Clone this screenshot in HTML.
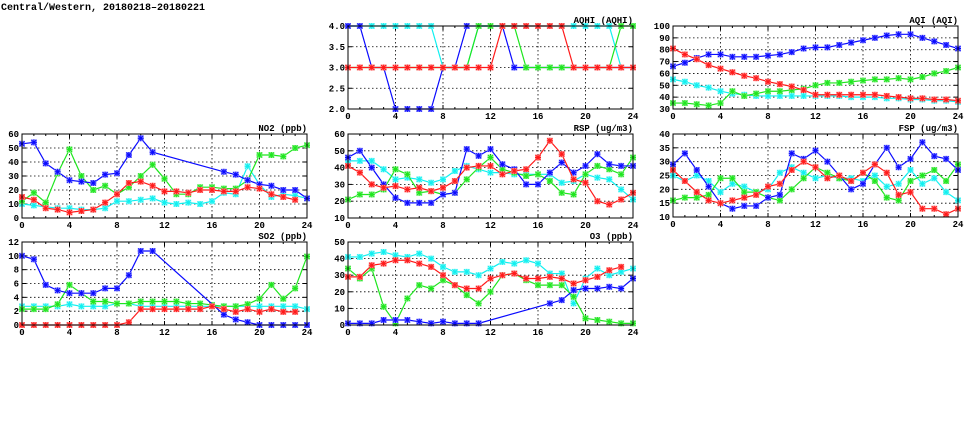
<!DOCTYPE html>
<html><head><meta charset="utf-8"><style>
html,body{margin:0;padding:0;background:#fff;}
svg{display:block;}
text{font-family:"Liberation Mono",monospace;font-weight:bold;fill:#000;}
</style></head><body>
<svg id="s" width="975" height="447" xmlns="http://www.w3.org/2000/svg">
<text x="1" y="10" font-size="10">Central/Western, 20180218–20180221</text>
</svg>
<script>
const S=document.getElementById('s');const NS='http://www.w3.org/2000/svg';
function el(t,a,txt){const e=document.createElementNS(NS,t);for(const k in a)e.setAttribute(k,a[k]);if(txt!=null)e.textContent=txt;S.appendChild(e);return e;}
const C={b:'#0a0aff',g:'#1ee61e',r:'#ff1a1a',c:'#10f0f0'};
const L={b:'#9090ff',g:'#90f090',r:'#ff9090',c:'#90f8f8'};
function panel(x0,y0,y1,ymin,ymax,step,title,dec,series){
 const w=285,h=y1-y0;
 const X=i=>x0+i*w/24, Y=v=>y1-(v-ymin)/(ymax-ymin)*h;
 for(let v=ymin;v<=ymax+1e-9;v+=step){const y=Y(v);
  if(v>ymin&&v<ymax)el('line',{x1:x0,x2:x0+w,y1:y,y2:y,stroke:'#000','stroke-width':0.8,'stroke-dasharray':'1.5,2.5'});
  el('line',{x1:x0,x2:x0+4,y1:y,y2:y,stroke:'#000'});el('line',{x1:x0+w-4,x2:x0+w,y1:y,y2:y,stroke:'#000'});
  el('text',{x:x0-3,y:y+3,'font-size':9,'text-anchor':'end'},dec?v.toFixed(1):String(v));}
 for(let i=0;i<=24;i++){const x=X(i);
  if(i%4==0){ if(i>0&&i<24)el('line',{x1:x,x2:x,y1:y0,y2:y1,stroke:'#000','stroke-width':0.8,'stroke-dasharray':'1.5,2.5'});
   el('line',{x1:x,x2:x,y1:y1,y2:y1-4,stroke:'#000'});el('line',{x1:x,x2:x,y1:y0,y2:y0+4,stroke:'#000'});
   el('text',{x:x,y:y1+10,'font-size':9,'text-anchor':'middle'},String(i));}
  else{el('line',{x1:x,x2:x,y1:y1,y2:y1-2,stroke:'#000'});el('line',{x1:x,x2:x,y1:y0,y2:y0+2,stroke:'#000'});}}
 for(const [k,d] of series){const pts=[];d.forEach((v,i)=>{if(v!=null)pts.push([X(i),Y(v)]);});
  el('polyline',{points:pts.map(p=>p.join(',')).join(' '),fill:'none',stroke:C[k],'stroke-width':1.2});
  for(const [px,py] of pts){el('rect',{x:px-3,y:py-3,width:6,height:6,fill:L[k]});
   el('path',{d:`M${px-3} ${py}H${px+3}M${px} ${py-3}V${py+3}M${px-2.5} ${py-2.5}L${px+2.5} ${py+2.5}M${px-2.5} ${py+2.5}L${px+2.5} ${py-2.5}`,stroke:C[k],'stroke-width':1});}}
 el('rect',{x:x0,y:y0,width:w,height:h,fill:'none',stroke:'#000','stroke-width':1});
 el('text',{x:x0+w,y:y0-3,'font-size':9,'text-anchor':'end'},title);
}
const n=null;
panel(22,134,218,0,60,10,'NO2 (ppb)',0,[
['c',[10,9,8,7,7,6,6,7,12,12,13,14,11,10,11,10,12,18,17,37,24,15,17,16,14]],
['g',[12,18,11,32,49,30,20,23,17,22,30,38,28,17,17,22,22,21,21,27,45,45,44,50,52]],
['b',[53,54,39,33,27,26,25,31,32,45,57,47,n,n,n,n,n,33,31,27,24,23,20,20,14]],
['r',[15,13,7,6,4,5,6,11,17,25,26,23,19,19,18,20,20,19,19,22,21,17,15,13,n]]]);
panel(22,242,325,0,12,2,'SO2 (ppb)',0,[
['c',[2.7,2.7,2.7,2.7,3,2.7,2.7,2.7,3.1,3.1,2.7,2.7,2.7,2.7,2.7,2.7,2.7,2.7,2.7,2.7,2.7,2.7,2.7,2.7,2.3]],
['g',[2.3,2.3,2.3,3,5.8,4.6,3.4,3.4,3.1,3.1,3.4,3.4,3.4,3.4,3.1,3.1,2.9,2.7,2.7,3,3.8,5.8,3.8,5.3,9.9]],
['b',[10,9.5,5.8,5,4.6,4.6,4.6,5.3,5.3,7.2,10.7,10.7,n,n,n,n,n,1.5,0.8,0.4,0,0,0,0,0]],
['r',[0,0,0,0,0,0,0,0,0,0.4,2.3,2.3,2.3,2.3,2.3,2.3,2.7,2.3,1.9,2.3,1.9,2.3,1.9,1.9,n]]]);
panel(348,26,109,2,4,0.5,'AQHI (AQHI)',1,[
['c',[4,4,4,4,4,4,4,4,3,3,3,4,4,4,4,4,4,4,4,4,4,4,4,3,3]],
['b',[4,4,3,3,2,2,2,2,3,3,4,4,4,4,3,3,3,3,3,3,3,3,3,3,3]],
['g',[3,3,3,3,3,3,3,3,3,3,3,4,4,4,4,3,3,3,3,3,3,3,3,4,4]],
['r',[3,3,3,3,3,3,3,3,3,3,3,3,3,4,4,4,4,4,4,3,3,3,3,3,3]]]);
panel(348,134,218,10,60,10,'RSP (ug/m3)',0,[
['c',[44,44,44,39,33,34,33,31,33,38,41,39,37,37,36,36,36,36,31,32,36,34,33,27,21]],
['g',[21,24,24,27,39,36,25,26,24,25,33,40,46,39,37,35,36,32,25,24,36,41,39,36,46]],
['b',[46,50,40,30,22,19,19,19,24,25,51,47,51,42,39,30,30,37,43,37,41,48,42,41,41]],
['r',[41,37,30,28,29,27,28,26,28,32,40,41,41,36,38,39,46,56,48,33,31,20,18,21,25]]]);
panel(348,242,325,0,50,10,'O3 (ppb)',0,[
['c',[41,41,43,44,42,41,43,40,35,32,32,30,34,38,37,39,37,31,31,13,28,34,30,32,34]],
['g',[34,28,34,11,1,16,24,22,27,24,18,13,20,30,31,27,24,24,24,17,4,3,2,1,1]],
['b',[1,1,1,3,3,3,2,1,2,1,1,1,n,n,n,n,n,13,15,21,22,22,23,22,28]],
['r',[29,29,36,37,39,39,37,35,30,24,22,22,28,30,31,28,28,29,28,25,27,29,33,35,n]]]);
panel(673,26,109,30,100,10,'AQI (AQI)',0,[
['c',[55,53,50,48,45,43,42,41,41,41,41,41,41,41,41,40,40,40,39,39,38,38,37,37,36]],
['g',[35,35,34,33,35,45,41,43,45,45,46,47,50,52,52,53,54,55,55,56,55,57,60,62,65]],
['b',[66,69,73,76,76,74,74,74,75,76,78,81,82,82,84,86,88,90,92,93,93,90,87,84,81]],
['r',[81,76,72,67,64,61,58,56,53,51,49,46,42,42,42,42,42,42,41,40,39,39,38,38,37]]]);
panel(673,134,217,10,40,5,'FSP (ug/m3)',0,[
['c',[25,23,25,23,19,22,21,19,20,26,28,26,24,25,24,24,23,25,21,22,27,22,24,19,16]],
['g',[16,17,17,18,24,24,19,19,17,16,20,24,28,26,24,23,26,23,17,16,23,25,27,23,29]],
['b',[29,33,27,21,15,13,14,14,17,18,33,31,34,30,25,20,22,29,35,28,31,37,32,31,27]],
['r',[27,23,19,16,15,16,17,18,21,22,27,30,28,24,25,23,26,29,26,18,19,13,13,11,13]]]);
</script>
</body></html>
